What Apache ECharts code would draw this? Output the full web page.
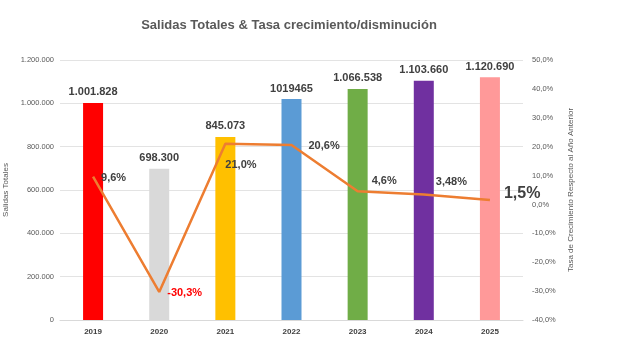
<!DOCTYPE html>
<html>
<head>
<meta charset="utf-8">
<script src="https://cdn.jsdelivr.net/npm/echarts@6/dist/echarts.min.js"></script>
<style>
  html, body { margin: 0; padding: 0; background: #fff; }
  #chart { width: 640px; height: 346px; }
</style>
</head>
<body>
<div id="chart"></div>
<script>
// Years on the category axis
const years = ['2019', '2020', '2021', '2022', '2023', '2024', '2025'];
// Total departures per year
const salidas = [1001828, 698300, 845073, 1019465, 1066538, 1103660, 1120690];
// Year-over-year growth rate (%)
const tasa = [9.6, -30.3, 21.0, 20.6, 4.6, 3.48, 1.5];
// Bar fill per year
const barColors = ['#FF0000', '#D9D9D9', '#FFC000', '#5B9BD5', '#70AD47', '#7030A0', '#FF9999'];
// Years whose total is printed without thousands separators
const plainYears = ['2022'];

const FONT = '"Liberation Sans", "Open Sans", sans-serif';

function thousands(v) {
  return String(v).replace(/\B(?=(\d{3})+(?!\d))/g, '.');
}
function pct(v) {
  const s = Number.isInteger(v) ? v.toFixed(1) : String(v);
  return s.replace('.', ',') + '%';
}

// Pixel placement of each growth label relative to its point's box
const rateLabelStyle = [
  { position: [9, 2] },
  { position: [9, 2], color: '#FF0000' },
  { position: [1, 22] },
  { position: [18, 2] },
  { position: [15, -9] },
  { position: [13, -11] },
  { position: [15, -6], fontSize: 16 }
];

const chart = echarts.init(document.getElementById('chart'));
chart.setOption({
  backgroundColor: '#fff',
  animation: false,
  textStyle: { fontFamily: FONT },
  title: {
    text: 'Salidas Totales & Tasa crecimiento/disminución',
    left: 284, top: 14, textAlign: 'center',
    textStyle: { fontSize: 13, fontWeight: 'bold', color: '#595959', fontFamily: FONT }
  },
  grid: { left: 60, right: 117, top: 60, bottom: 26, outerBoundsMode: 'none', containLabel: false },
  xAxis: {
    type: 'category',
    data: years,
    axisLine: { lineStyle: { color: '#D9D9D9' } },
    axisTick: { show: false },
    axisLabel: { color: '#404040', fontSize: 8, fontWeight: 'bold', margin: 8 }
  },
  yAxis: [
    {
      type: 'value', min: 0, max: 1200000, interval: 200000,
      name: 'Salidas Totales', nameLocation: 'middle', nameGap: 38, nameRotate: 90,
      nameTextStyle: { color: '#595959', fontSize: 8 },
      axisLine: { show: false }, axisTick: { show: false },
      axisLabel: { color: '#595959', fontSize: 7.5, margin: 6, formatter: v => thousands(v) },
      splitLine: { lineStyle: { color: '#E3E3E3' } }
    },
    {
      type: 'value', min: -40, max: 50, interval: 10,
      name: 'Tasa de Crecimiento Respecto al Año Anterior', nameLocation: 'middle', nameGap: 32, nameRotate: 90,
      nameTextStyle: { color: '#595959', fontSize: 8 },
      axisLine: { show: false }, axisTick: { show: false },
      axisLabel: { color: '#595959', fontSize: 7.5, margin: 9, formatter: v => v.toFixed(1).replace('.', ',') + '%' },
      splitLine: { show: false }
    }
  ],
  series: [
    {
      type: 'bar',
      yAxisIndex: 0,
      barWidth: 20,
      data: salidas.map((v, i) => ({ value: v, itemStyle: { color: barColors[i] } })),
      label: {
        show: true, position: 'top', distance: 5,
        fontSize: 11, fontWeight: 'bold', color: '#404040',
        formatter: p => plainYears.includes(years[p.dataIndex]) ? String(p.value) : thousands(p.value)
      }
    },
    {
      type: 'line',
      yAxisIndex: 1,
      showSymbol: true,
      symbol: 'circle',
      symbolSize: 2,
      itemStyle: { color: 'rgba(237,125,49,0)', borderWidth: 0 },
      lineStyle: { color: '#ED7D31', width: 2.5 },
      data: tasa.map((v, i) => ({
        value: v,
        label: Object.assign({ show: true, align: 'left', verticalAlign: 'middle' }, rateLabelStyle[i])
      })),
      label: {
        show: true, fontSize: 11, fontWeight: 'bold', color: '#404040',
        formatter: p => pct(p.value)
      },
      labelLayout: { hideOverlap: false },
      z: 5
    }
  ]
});
</script>
</body>
</html>
